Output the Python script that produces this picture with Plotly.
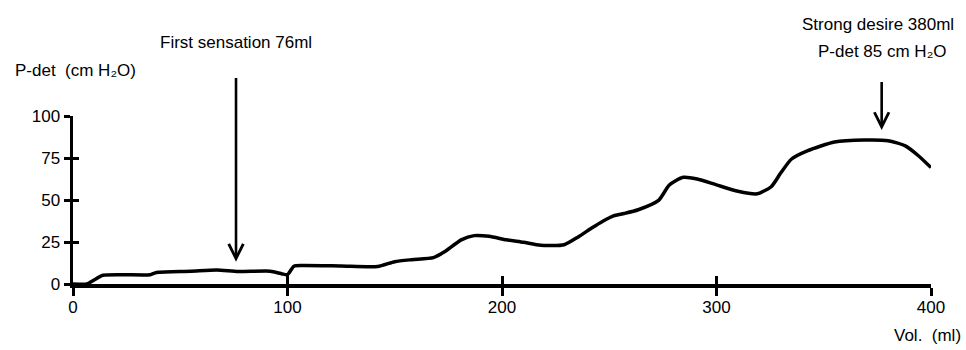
import plotly.graph_objects as go

# Data (volume in ml, detrusor pressure in cm H2O)
volume_ml = [0, 6.5, 10, 14, 36, 38, 40, 55, 67, 77, 92, 97.5, 100, 103, 107, 125, 142, 150, 158,
             168, 173, 181, 187, 194, 202, 210, 218, 229, 235.5, 242, 247, 252, 257, 263.5, 273,
             278, 284.5, 291, 300, 310, 319, 325.5, 330, 335, 342.6, 355, 369, 380, 388, 394, 400]
pdet_cmh2o = [0, 0, 2.5, 5.2, 5.5, 6.5, 7, 7.6, 8.3, 7.4, 7.6, 6, 5.6, 10.6, 11, 10.7, 10.4, 13.3, 14.5,
              15.7, 19, 26.3, 28.8, 28.4, 26.3, 24.8, 23, 23.4, 28, 33.5, 37.4, 40.6, 42, 44.2, 49.8,
              58.9, 63.5, 62.5, 59, 55.2, 53.7, 57.9, 66.2, 74.4, 79.4, 84.5, 85.7, 85.3, 82.2, 76.5, 69.3]

x_ticks = [0, 100, 200, 300, 400]
y_ticks = [0, 25, 50, 75, 100]

first_sensation = {"vol": 76, "tip": 13.3, "text_y": 143.5, "label": "First sensation 76ml"}
strong_desire = {"vol": 377, "tip": 91.7, "text_y": 138.1,
                 "label1": "Strong desire 380ml", "label2": "P-det 85 cm H₂O"}

FONT = "Liberation Sans, Arial, Helvetica, sans-serif"
fs = 17

fig = go.Figure()
fig.add_trace(go.Scatter(x=volume_ml, y=pdet_cmh2o, mode="lines",
                         line=dict(color="black", width=3.5, shape="spline", smoothing=0.6),
                         cliponaxis=False, hoverinfo="skip", showlegend=False))
# invisible trace for the overlay axes (crossing ticks)
fig.add_trace(go.Scatter(x=[None], y=[None], xaxis="x2", yaxis="y2",
                         mode="lines", showlegend=False, hoverinfo="skip"))

axis_common = dict(showgrid=False, zeroline=False, color="black")
fig.update_layout(
    width=966, height=350,
    margin=dict(l=73, r=35, t=116, b=66),
    paper_bgcolor="white", plot_bgcolor="white",
    font=dict(family=FONT, size=fs, color="black"),
    xaxis=dict(range=[0, 400], tickvals=x_ticks, ticks="outside", ticklen=8, tickwidth=3,
               tickcolor="black", showline=True, linewidth=3.5, linecolor="black",
               ticklabelstandoff=-3,
               tickfont=dict(family=FONT, size=fs), **axis_common),
    yaxis=dict(range=[0, 100], tickvals=y_ticks, ticks="outside", ticklen=6, tickwidth=3,
               tickcolor="black", showline=True, linewidth=3.5, linecolor="black",
               tickfont=dict(family=FONT, size=fs), **axis_common),
    xaxis2=dict(overlaying="x", matches="x", anchor="y2", range=[0, 400], tickvals=x_ticks,
                ticks="inside", ticklen=8, tickwidth=3, tickcolor="black",
                showticklabels=False, showline=False, **axis_common),
    yaxis2=dict(overlaying="y", matches="y", anchor="x2", range=[0, 100], tickvals=y_ticks,
                ticks="inside", ticklen=6, tickwidth=3, tickcolor="black",
                showticklabels=False, showline=False, **axis_common),
)

# event markers: label with a downward arrow
fig.add_annotation(x=first_sensation["vol"], y=first_sensation["tip"],
                   ax=first_sensation["vol"], ay=first_sensation["text_y"],
                   xref="x", yref="y", axref="x", ayref="y", text=first_sensation["label"],
                   showarrow=True, arrowhead=5, arrowsize=1.1, arrowwidth=2.6,
                   arrowcolor="black", startstandoff=24)
fig.add_annotation(x=strong_desire["vol"], y=strong_desire["tip"],
                   ax=strong_desire["vol"], ay=strong_desire["text_y"],
                   xref="x", yref="y", axref="x", ayref="y", text=strong_desire["label2"],
                   showarrow=True, arrowhead=5, arrowsize=1.1, arrowwidth=2.6,
                   arrowcolor="black", startstandoff=19)
fig.add_annotation(x=strong_desire["vol"] - 1.5, y=1.5417, xref="x", yref="paper",
                   text=strong_desire["label1"], showarrow=False,
                   xanchor="center", yanchor="middle")

fig.add_annotation(x=-0.0703, y=1.268, xref="paper", yref="paper",
                   text="P-det  (cm H₂O)", showarrow=False,
                   xanchor="left", yanchor="middle")
fig.add_annotation(x=1.0373, y=-0.3095, xref="paper", yref="paper", text="Vol.  (ml)",
                   showarrow=False, xanchor="right", yanchor="middle")

fig.write_html("out.html", config={"displayModeBar": False, "staticPlot": True})
